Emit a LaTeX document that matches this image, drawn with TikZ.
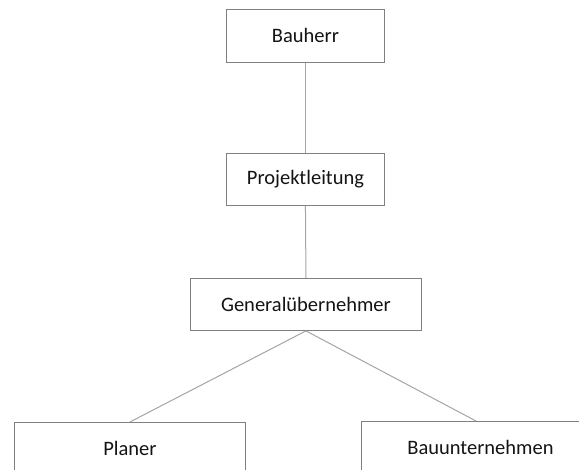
\documentclass[tikz,border=0pt]{standalone}
\usepackage{fontspec}
\setmainfont{Carlito}
\definecolor{boxgray}{RGB}{128,128,128}
\definecolor{linegray}{RGB}{165,165,165}
\definecolor{textdark}{RGB}{20,20,20}
\begin{document}
\begin{tikzpicture}[x=1pt,y=-1pt,
  orgbox/.style={draw=boxgray, line width=0.9pt, anchor=north west, inner sep=0pt,
    font=\fontsize{20.5}{24}\selectfont, text=textdark},
  link/.style={draw=linegray, line width=1pt}]
\useasboundingbox (0,0) rectangle (579,470);
\clip (0,0) rectangle (579,470);
\fill[white] (0,0) rectangle (579,470);

\node[orgbox, minimum width=158pt, minimum height=53pt] (bauherr) at (226,9) {Bauherr};
\node[orgbox, minimum width=158pt, minimum height=52pt] (pl) at (226,153) {Projektleitung};
\node[orgbox, minimum width=231pt, minimum height=52pt] (gu) at (190,278) {Generalübernehmer};
\node[orgbox, minimum width=231pt, minimum height=53pt] (planer) at (14,422) {Planer};
\node[orgbox, minimum width=238pt, minimum height=53pt] (bu) at (361,421) {Bauunternehmen};

\coordinate (buin) at (476,421);

\draw[link] (bauherr.south) -- (pl.north);
\draw[link] (pl.south) -- (gu.north);
\draw[link] (gu.south) -- (planer.north);
\draw[link] (gu.south) -- (buin);
\end{tikzpicture}
\end{document}
